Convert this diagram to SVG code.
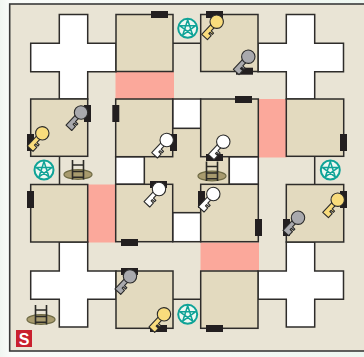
<svg xmlns="http://www.w3.org/2000/svg" xmlns:xlink="http://www.w3.org/1999/xlink" width="364" height="357" viewBox="0 0 364 357">
<defs>
<linearGradient id="out" x1="0" x2="1" y1="0" y2="0"><stop offset="0" stop-color="#f0f6f1"/><stop offset="0.03" stop-color="#fafcfa"/><stop offset="1" stop-color="#eef7f1"/></linearGradient>
<style>
.frame{fill:#e9e4d5;stroke:#3a3a3a;stroke-width:1.6}
.room{fill:#e3dabf;stroke:#2e2c2a;stroke-width:1.5}
.white{fill:#fff;stroke:#2e2c2a;stroke-width:1.5}
.red{fill:#fba89b}
.wall{fill:none;stroke:#2e2c2a;stroke-width:1.5}
.bar{fill:#231f20}
.kp{stroke:#2a2a2a;stroke-width:1.1;stroke-linejoin:round}
.ky{fill:#f9dc7c}.kg{fill:#a9a9ad}.kw{fill:#fff}
.oval{fill:#a89b6e;stroke:#6f6b45;stroke-width:1.2}
.lad{fill:none;stroke:#2b2a26;stroke-width:1.6}
.pc{fill:#eef8f2;stroke:#0fa397;stroke-width:2}
.ps{fill:none;stroke:#0fa397;stroke-width:1.5;stroke-linejoin:round}
.start{fill:#c9202f}
.st{fill:#fff;font-family:"Liberation Sans",Arial,sans-serif;font-weight:700;font-size:16px;text-anchor:middle}
</style>
<g id="key"><path class="kp" d="M4,-2.3H10.5V-5.5H12.3V-2.3H14V-5.5H19.5V2.3H4Z"/><circle class="kp" r="6.7"/></g>
<g id="pent"><circle class="pc" r="9.5"/><polygon class="ps" points="0,-8.5 5,6.9 -8.1,-2.6 8.1,-2.6 -5,6.9"/></g>
<g id="ladder"><ellipse class="oval" cx="0" cy="0" rx="14" ry="4.8"/><path class="lad" d="M-5.5,-14.5V5M5.5,-14.5V5M-5.5,-9.5H5.5M-5.5,-3H5.5M-5.5,2.8H5.5"/></g>
</defs>
<rect width="364" height="357" fill="url(#out)"/>
<rect class="frame" x="9.7" y="4" width="360" height="347"/>
<g id="red-zones">
<rect class="red" x="115.5" y="72" width="58.5" height="27"/>
<rect class="red" x="259" y="99" width="27.5" height="58.5"/>
<rect class="red" x="88" y="184.5" width="27.5" height="58"/>
<rect class="red" x="200.5" y="242.5" width="58.5" height="28"/>
</g>
<g id="connectors">
<path class="wall" d="M173,43.3H200.7M59.5,156.7V184.5M314.7,156.7V184.5M173,299.3H200.7"/>
</g>
<g id="cross-nw"><path class="white" d="M59.3,14.5H87.7V43.3H116V71.7H87.7V99H59.3V71.7H30.7V43.3H59.3Z"/></g>
<g id="cross-ne"><path class="white" d="M286.3,14.5H314.7V43.3H343.5V71.7H314.7V99H286.3V71.7H258V43.3H286.3Z"/></g>
<g id="cross-sw"><path class="white" d="M59.3,242H87.7V271H116V299.3H87.7V327H59.3V299.3H30.7V271H59.3Z"/></g>
<g id="cross-se"><path class="white" d="M286.3,242H314.7V271H343.5V299.3H314.7V327H286.3V299.3H258V271H286.3Z"/></g>
<g id="centre"><rect class="room" x="144.3" y="128.3" width="85" height="84.4"/></g>
<g id="cell-n"><rect class="white" x="172.7" y="99" width="28" height="29.3"/></g>
<g id="cell-w"><rect class="white" x="115.7" y="156.7" width="28.6" height="27.6"/></g>
<g id="cell-e"><rect class="white" x="229.3" y="156.7" width="29" height="27.6"/></g>
<g id="cell-s"><rect class="white" x="172.7" y="212.7" width="28" height="29"/></g>
<g id="room-a"><rect class="room" x="116" y="14.5" width="57" height="57"/><rect class="bar" x="151" y="11" width="17" height="7"/></g>
<g id="room-g"><rect class="room" x="200.7" y="14.5" width="57.3" height="57"/><rect class="bar" x="206" y="11" width="17" height="7"/><rect class="bar" x="236" y="67.7" width="17" height="7"/>
<use xlink:href="#key" href="#key" class="ky" transform="translate(216.7,21.7) rotate(133)"/><use xlink:href="#key" href="#key" class="kg" transform="translate(248.3,56.7) rotate(133)"/></g>
<g id="room-b"><rect class="room" x="30.7" y="99" width="57" height="57.3"/><rect class="bar" x="84" y="105" width="7" height="17"/><rect class="bar" x="27" y="134" width="7" height="17"/>
<use xlink:href="#key" href="#key" class="kg" transform="translate(81,112.5) rotate(133)"/><use xlink:href="#key" href="#key" class="ky" transform="translate(42.3,133.3) rotate(133)"/></g>
<g id="room-c"><rect class="room" x="115.7" y="99" width="57" height="57.7"/><rect class="bar" x="112.3" y="105" width="7" height="17"/><rect class="bar" x="170" y="134" width="7" height="17"/>
<use xlink:href="#key" href="#key" class="kw" transform="translate(166.7,140) rotate(133)"/></g>
<g id="room-d"><rect class="room" x="200.7" y="99" width="57.6" height="57.7"/><rect class="bar" x="235" y="96" width="17" height="7"/></g>
<g id="room-h"><rect class="room" x="286.3" y="99" width="57.4" height="57.3"/><rect class="bar" x="340" y="134" width="7" height="17"/></g>
<g id="room-i"><rect class="room" x="30.7" y="184.5" width="57" height="57.5"/><rect class="bar" x="27" y="191" width="7" height="17"/></g>
<g id="room-e"><rect class="room" x="115.7" y="184.3" width="57" height="57.4"/><rect class="bar" x="150" y="181" width="17" height="7"/><rect class="bar" x="121" y="239" width="17" height="7"/>
<use xlink:href="#key" href="#key" class="kw" transform="translate(159,189) rotate(133)"/></g>
<g id="room-f"><rect class="room" x="200.7" y="184.3" width="57.6" height="57.4"/><rect class="bar" x="198" y="191" width="7" height="17"/><rect class="bar" x="255" y="219" width="7" height="17"/>
<use xlink:href="#key" href="#key" class="kw" transform="translate(213.3,194) rotate(133)"/></g>
<g id="room-j"><rect class="room" x="286.3" y="184.5" width="57.4" height="57.5"/><rect class="bar" x="340" y="191" width="7" height="17"/><rect class="bar" x="283" y="219" width="7" height="17"/>
<use xlink:href="#key" href="#key" class="ky" transform="translate(337.7,199.7) rotate(133)"/><use xlink:href="#key" href="#key" class="kg" transform="translate(298,217.7) rotate(133)"/></g>
<g id="room-k"><rect class="room" x="116" y="271" width="57" height="57.3"/><rect class="bar" x="121" y="268" width="17" height="7"/><rect class="bar" x="150" y="325" width="17" height="7"/>
<use xlink:href="#key" href="#key" class="kg" transform="translate(130,276.3) rotate(133)"/><use xlink:href="#key" href="#key" class="ky" transform="translate(164,314.3) rotate(133)"/></g>
<g id="room-l"><rect class="room" x="200.7" y="271" width="57.3" height="57.3"/><rect class="bar" x="206" y="325" width="17" height="7"/></g>
<g id="ladder-1"><use xlink:href="#ladder" href="#ladder" transform="translate(78,174.5)"/></g>
<g id="ladder-2"><use xlink:href="#ladder" href="#ladder" transform="translate(212,176)"/><rect class="bar" x="206" y="154" width="17" height="7"/><use xlink:href="#key" href="#key" class="kw" transform="translate(223.3,141.7) rotate(133)"/></g>
<g id="ladder-3"><use xlink:href="#ladder" href="#ladder" transform="translate(41,319.5)"/></g>
<g id="pent-1"><use xlink:href="#pent" href="#pent" transform="translate(44,170)"/></g>
<g id="pent-2"><use xlink:href="#pent" href="#pent" transform="translate(187.7,28.3)"/></g>
<g id="pent-3"><use xlink:href="#pent" href="#pent" transform="translate(330.3,170)"/></g>
<g id="pent-4"><use xlink:href="#pent" href="#pent" transform="translate(187.7,314.3)"/></g>
<g id="start"><rect class="start" x="16" y="330" width="16" height="17"/><text class="st" x="24" y="344.5">S</text></g>
</svg>
